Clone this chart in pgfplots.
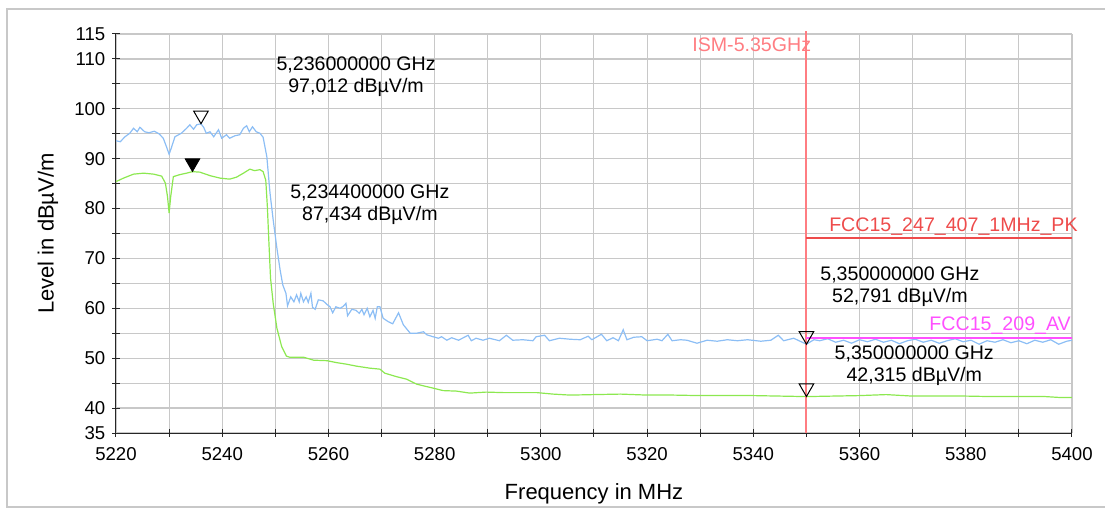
\documentclass[border=0pt]{standalone}
\usepackage{fontspec}
\setmainfont{Liberation Sans}
\usepackage{pgfplots}
\pgfplotsset{compat=1.18}

\definecolor{pkblue}{RGB}{140,190,245}
\definecolor{avgreen}{RGB}{140,232,80}
\definecolor{ismred}{RGB}{255,125,130}
\definecolor{limred}{RGB}{238,75,75}
\definecolor{limmag}{RGB}{255,80,255}
\definecolor{gridgray}{RGB}{200,200,200}

\begin{document}
\begin{tikzpicture}
    % page = 1105x509 px at 0.5pt per px, axis box at (0,0)
    \useasboundingbox (-58pt,-38pt) rectangle (494.5pt,216.5pt);
    \draw[gridgray, line width=1pt] (600pt,212pt) -- (-54.5pt,212pt)
        -- (-54.5pt,-37pt) -- (600pt,-37pt);
    \begin{axis}[
        at={(0,0)}, anchor=south west,
        scale only axis,
        width=478pt, height=199.5pt,
        xmin=5220, xmax=5400,
        ymin=35, ymax=115,
        axis x line*=bottom,
        axis y line*=left,
        axis line style={line width=0.5pt, black!85},
        xtick={5220,5240,...,5400},
        minor xtick={5230,5250,...,5390},
        ytick={35,40,50,60,70,80,90,100,110,115},
        minor ytick={45,55,...,105},
        grid=both,
        grid style={gridgray, line width=0.5pt},
        major grid style={gridgray, line width=0.6pt},
        tick align=center,
        major tick length=3.6pt,
        minor tick length=3.6pt,
        tick style={black!85, line width=0.5pt},
        /pgf/number format/.cd, 1000 sep={}, assume math mode=true,
        /pgfplots/.cd,
        tick label style={font=\fontsize{9.3}{11}\selectfont},
        xticklabel style={yshift=-2pt},
        xlabel={Frequency in MHz},
        ylabel={Level in dBµV/m},
        every axis x label/.style={at={(axis description cs:0.5,0)},
            yshift=-30.5pt, anchor=center, font=\fontsize{11}{13}\selectfont},
        every axis y label/.style={at={(axis description cs:0,0.5)},
            xshift=-34pt, rotate=90, anchor=center, font=\fontsize{11}{13}\selectfont},
        clip=false,
        ]

    % peak trace
    \addplot[pkblue, line width=0.6pt] coordinates {
        (5220,93.6) (5220.8,93.4) (5221.7,94.4) (5222.6,95.1) (5223.3,96.1)
        (5224.0,95.4) (5224.5,96.3) (5225.4,95.4) (5226.2,95.2) (5227.2,95.5)
        (5228.1,95.0) (5228.9,94.1) (5229.5,92.4) (5230.0,90.9) (5230.4,92.1)
        (5231.1,94.4) (5232.3,95.1) (5233.3,96.1) (5233.9,96.8) (5234.6,95.9)
        (5235.2,96.8) (5236.0,97.0) (5236.5,96.3) (5237.0,95.1) (5237.7,95.4)
        (5238.4,94.4) (5239.3,95.8) (5239.9,94.1) (5240.8,94.8) (5241.4,94.1)
        (5242.4,94.6) (5243.3,94.8) (5244.0,96.1) (5244.6,96.6) (5245.1,95.4)
        (5245.7,96.4) (5246.4,95.4) (5247.1,95.1) (5247.7,94.3) (5248.4,90.4)
        (5249.0,83.1) (5249.6,77.7) (5250.3,72.0) (5250.9,67.7) (5251.4,64.7)
        (5252.0,63.0) (5252.3,60.5) (5252.9,62.3) (5253.5,61.3) (5254.0,62.7)
        (5254.5,61.3) (5254.8,63.0) (5255.3,61.3) (5255.8,62.3) (5256.2,61.2)
        (5256.7,63.0) (5257.0,60.2) (5257.5,59.8) (5258.1,61.7) (5259.0,61.5)
        (5259.7,60.8) (5260.3,60.3) (5260.8,59.1) (5261.4,60.3) (5262.2,60.0)
        (5262.8,60.4) (5263.3,61.0) (5263.6,58.5) (5264.4,59.8) (5265.2,59.6)
        (5265.8,59.0) (5266.3,59.8) (5266.7,58.7) (5267.3,60.0) (5267.8,58.3)
        (5268.4,59.6) (5268.8,58.0) (5269.2,60.3) (5269.7,60.3) (5270.3,58.0)
        (5271.3,57.3) (5272.1,56.9) (5273.2,59.1) (5274.1,56.7) (5275.4,55.0)
        (5276.6,55.0) (5277.9,55.3) (5278.5,54.7) (5279.7,54.3) (5280.7,54.0)
        (5281.3,54.3) (5282.3,53.6) (5283.2,54.1) (5284.5,53.6) (5286.3,54.6)
        (5286.9,53.5) (5287.8,54.0) (5289.1,53.6) (5290.3,54.0) (5292.2,53.5)
        (5293.5,54.6) (5294.7,53.6) (5296.6,53.7) (5298.5,53.5) (5299.1,54.3)
        (5300.7,54.6) (5301.6,53.5) (5303.5,54.0) (5305.5,53.8) (5307.4,53.7)
        (5308.9,54.4) (5309.6,53.7) (5311.4,54.8) (5312.4,53.5) (5313.6,54.1)
        (5314.6,53.5) (5315.5,55.7) (5316.2,53.7) (5317.5,54.2) (5319.0,54.3)
        (5320.0,53.5) (5321.9,53.8) (5322.8,53.5) (5323.9,54.8) (5324.7,53.5)
        (5326.3,53.7) (5327.5,53.6) (5329.4,53.0) (5331.3,53.6) (5333.2,53.4)
        (5335.1,53.7) (5337.0,53.5) (5338.9,53.7) (5341.4,53.4) (5343.3,53.6)
        (5344.7,54.6) (5345.7,53.5) (5347.6,54.0) (5349.4,53.1) (5350.0,52.8)
        (5351.4,53.7) (5352.5,53.5) (5354.0,53.9) (5355.5,53.2) (5357.0,53.6)
        (5358.5,53.0) (5360.0,53.7) (5361.5,53.3) (5363.0,53.8) (5364.5,53.2)
        (5366.0,53.6) (5367.5,52.9) (5369.0,53.5) (5370.5,53.8) (5372.0,53.2)
        (5373.5,53.6) (5375.0,53.0) (5376.5,53.5) (5378.0,53.9) (5379.5,53.3)
        (5381.0,53.6) (5382.5,52.8) (5384.0,53.5) (5385.5,53.2) (5387.0,53.7)
        (5388.5,53.1) (5390.0,53.5) (5391.5,52.9) (5393.0,53.6) (5394.5,53.2)
        (5396.0,53.7) (5397.5,52.8) (5399.0,53.4) (5400.0,53.6)
    };

    % average trace
    \addplot[avgreen, line width=0.6pt] coordinates {
        (5220,85.4) (5221.4,86.1) (5223.3,86.9) (5225.2,87.1) (5227.1,86.9)
        (5228.6,86.5) (5229.3,85.1) (5229.7,82.4) (5230.0,79.1) (5230.3,82.4)
        (5230.8,86.4) (5232.0,86.8) (5233.3,87.1) (5234.4,87.4) (5235.8,87.3)
        (5237.7,86.6) (5239.6,86.1) (5241.4,85.9) (5242.7,86.3) (5244.0,87.1)
        (5245.2,87.9) (5246.1,87.6) (5247.1,87.8) (5247.7,87.4) (5248.2,85.7)
        (5248.5,80.4) (5248.8,73.0) (5249.1,66.0) (5249.6,61.0) (5250.3,56.0)
        (5251.2,52.3) (5252.1,50.4) (5252.7,50.2) (5255.3,50.2) (5257.2,49.6)
        (5259.7,49.5) (5261.6,49.1) (5263.4,48.8) (5265.3,48.4) (5267.8,48.0)
        (5269.7,47.8) (5270.6,47.0) (5272.8,46.3) (5274.7,45.8) (5276.6,44.8)
        (5278.5,44.3) (5279.7,44.0) (5281.6,43.5) (5284.1,43.4) (5286.6,43.0)
        (5289.7,43.2) (5292.9,43.1) (5296.0,43.1) (5299.2,43.1) (5302.3,42.8)
        (5305.5,42.6) (5310.0,42.7) (5315.0,42.8) (5320.0,42.6) (5325.0,42.6)
        (5330.0,42.5) (5335.0,42.5) (5340.0,42.5) (5345.0,42.4) (5350.0,42.3)
        (5355.0,42.4) (5360.0,42.5) (5365.0,42.7) (5370.0,42.4) (5375.0,42.4)
        (5380.0,42.4) (5385.0,42.3) (5390.0,42.3) (5395.0,42.3) (5398.0,42.1)
        (5400.0,42.1)
    };

    % ISM band edge
    \addplot[ismred, line width=1pt] coordinates {(5350,35) (5350,115.6)};
    % limit lines
    \addplot[limred, line width=1pt] coordinates {(5350,74) (5400,74)};
    \addplot[limmag, line width=1pt] coordinates {(5350,54) (5400,54)};

    % markers, tip on the value
    \addplot[only marks, mark=triangle, mark size=4.2pt,
        mark options={yshift=4.2pt, rotate=180, black, line width=0.5pt}]
        coordinates {(5236,97.012) (5350,52.791) (5350,42.315)};
    \addplot[only marks, mark=triangle*, mark size=4.2pt,
        mark options={yshift=4.2pt, rotate=180, black}]
        coordinates {(5234.4,87.434)};

    \begin{scope}[every node/.style={font=\fontsize{9.8}{11}\selectfont, align=center}]
    \node at (axis cs:5265.2,106.4) {5,236000000 GHz\\97,012 dBµV/m};
    \node at (axis cs:5267.8,80.7) {5,234400000 GHz\\87,434 dBµV/m};
    \node at (axis cs:5367.6,64.4) {5,350000000 GHz\\52,791 dBµV/m};
    \node at (axis cs:5370.3,48.5) {5,350000000 GHz\\42,315 dBµV/m};
    \node[text=ismred] at (axis cs:5339.7,112.8) {ISM-5.35GHz};
    \node[text=limred, anchor=east] at (axis cs:5402.4,76.4) {FCC15\_247\_407\_1MHz\_PK};
    \node[text=limmag, anchor=east] at (axis cs:5401.1,56.5) {FCC15\_209\_AV};
    \end{scope}
    \end{axis}
\end{tikzpicture}
\end{document}
